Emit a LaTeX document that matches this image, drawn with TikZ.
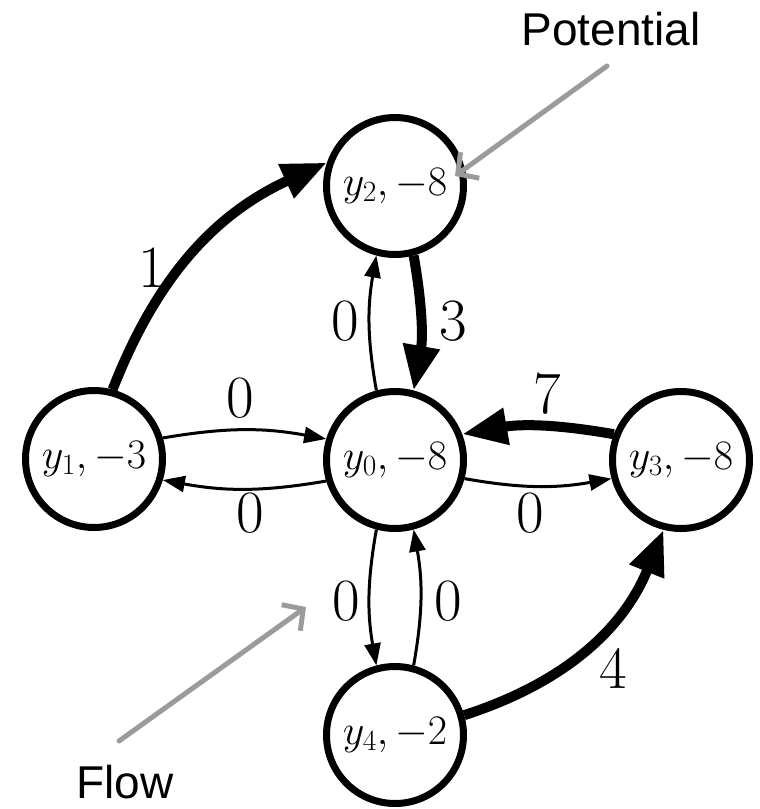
\RequirePackage{fix-cm}
\documentclass[tikz,border=0pt]{standalone}
\usepackage{fontspec}
\newfontfamily\labelsans{Liberation Sans}
\usetikzlibrary{arrows.meta}
\definecolor{pointergray}{RGB}{155,155,155}
\tikzset{
  vertex/.style={circle,draw=black,line width=7pt,minimum size=137pt,inner sep=0pt,
    font=\fontsize{42}{50}\selectfont},
  thinarrow/.style={line width=3pt,-{Triangle[length=22pt,width=16pt]}},
  thickarrow/.style={line width=10pt,-{Triangle[length=45pt,width=35pt]}},
  flowlabel/.style={inner sep=0pt,font=\fontsize{60}{70}\selectfont},
  callout/.style={inner sep=0pt,font=\labelsans\fontsize{46}{54}\selectfont,anchor=base},
  pointer/.style={draw=pointergray,line width=5pt,line cap=round,
    -{Straight Barb[length=15pt,width=32pt,line width=5pt]}}
}
\begin{document}
\begin{tikzpicture}[x=1pt,y=-1pt]
\useasboundingbox (0,0) rectangle (760,809);
\node[vertex] (y2) at (395,186) {$y_2,-8$};
\node[vertex] (y1) at (94,459) {$y_1,-3$};
\node[vertex] (y0) at (395,460) {$y_0,-8$};
\node[vertex] (y3) at (681,460) {$y_3,-8$};
\node[vertex] (y4) at (395,735) {$y_4,-2$};

\draw[thickarrow] (y1.75) to[bend left=22] (y2.161);
\draw[thinarrow] (y0.105) to[bend left=10] (y2.255);
\draw[thickarrow] (y2.285) to[bend left=10] (y0.75);
\draw[thinarrow] (y1.17) to[bend left=10] (y0.163);
\draw[thinarrow] (y0.197) to[bend left=10] (y1.343);
\draw[thickarrow] (y3.159) to[bend right=10] (y0.21);
\draw[thinarrow] (y0.-15) to[bend right=10] (y3.195);
\draw[thinarrow] (y0.255) to[bend right=10] (y4.105);
\draw[thinarrow] (y4.75) to[bend right=10] (y0.285);
\draw[thickarrow] (y4.16) to[bend right=25] (y3.256);

\node[flowlabel] (l12) at (152,268) {$1$};
\node[flowlabel] (l02) at (345,321) {$0$};
\node[flowlabel] (l20) at (453,321) {$3$};
\node[flowlabel] (l10) at (240,398) {$0$};
\node[flowlabel] (l01) at (250,513) {$0$};
\node[flowlabel] (l30) at (547,394) {$7$};
\node[flowlabel] (l03) at (530,513) {$0$};
\node[flowlabel] (l04) at (346,601) {$0$};
\node[flowlabel] (l40) at (448,601) {$0$};
\node[flowlabel] (l43) at (613,669) {$4$};

\node[callout] (pot) at (611,45) {Potential};
\node[callout] (flow) at (125,798) {Flow};
\coordinate (potfrom) at (607,66);
\coordinate (potto) at (455,176);
\coordinate (flowfrom) at (119,741);
\coordinate (flowto) at (306,607);
\draw[pointer] (potfrom) -- (potto);
\draw[pointer] (flowfrom) -- (flowto);
\end{tikzpicture}
\end{document}
